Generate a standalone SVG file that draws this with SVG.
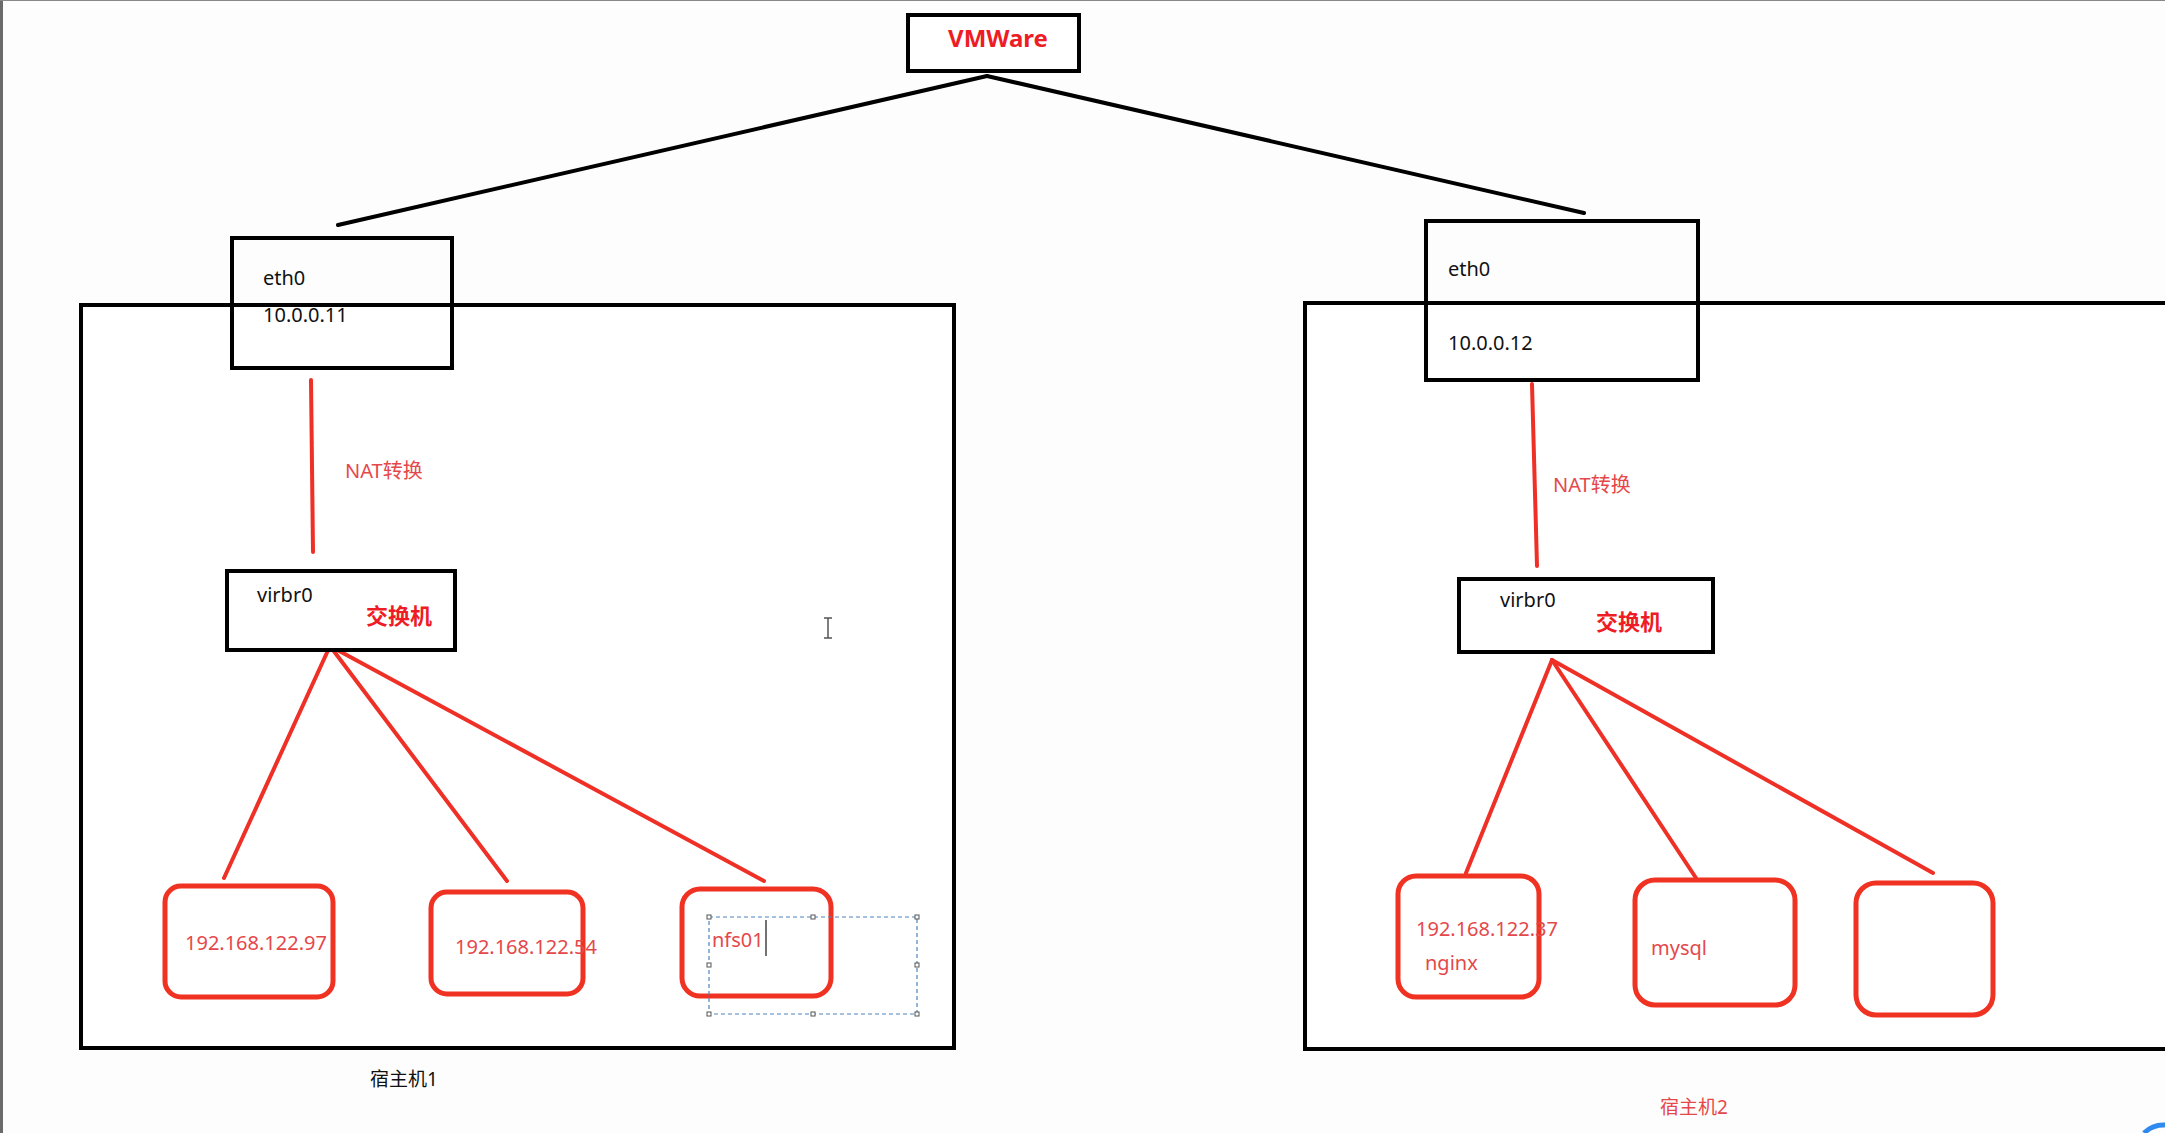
<svg xmlns="http://www.w3.org/2000/svg" width="2165" height="1133" viewBox="0 0 2165 1133">
<style>
.bk{fill:#fff;stroke:#000;stroke-width:4}
.vm{fill:#fff;stroke:#f03223;stroke-width:5}
.cb{stroke:#000;stroke-width:4;fill:none;stroke-linecap:round}
.cr{stroke:#ef3026;stroke-width:4;fill:none;stroke-linecap:round}
.t{font-family:"Noto Sans","Noto Sans CJK SC",sans-serif;font-size:20px;fill:#111}
.tr{font-family:"Noto Sans","Noto Sans CJK SC",sans-serif;font-size:20px;fill:#e5484a}
.tb{font-family:"Noto Sans","Noto Sans CJK SC",sans-serif;font-weight:bold;fill:#ee1c25}
.h{fill:#fff;stroke:#555;stroke-width:1}
</style>
<rect x="0" y="0" width="2165" height="1133" fill="#fdfdfd"/>
<rect x="0" y="0" width="3" height="1133" fill="#6a6a6a"/>
<line x1="0" y1="0.5" x2="2165" y2="0.5" stroke="#888" stroke-width="1"/>

<g id="host1">
<rect class="bk" x="81" y="305" width="873" height="743"/>
<text class="t" x="370" y="1086" style="font-size:19px">宿主机1</text>
</g>
<g id="host2">
<rect class="bk" x="1305" y="303" width="900" height="746"/>
<text class="tr" x="1660" y="1114" style="font-size:19px">宿主机2</text>
</g>

<g id="connectors">
<line class="cb" x1="987" y1="76" x2="338" y2="225"/>
<line class="cb" x1="987" y1="76" x2="1584" y2="213"/>
<line class="cr" x1="311" y1="380" x2="313" y2="552"/>
<line class="cr" x1="1532" y1="384" x2="1537" y2="566"/>
<line class="cr" x1="330" y1="646" x2="224" y2="878"/>
<line class="cr" x1="330" y1="646" x2="507" y2="881"/>
<line class="cr" x1="330" y1="646" x2="764" y2="881"/>
<line class="cr" x1="1552" y1="660" x2="1466" y2="873"/>
<line class="cr" x1="1552" y1="660" x2="1696" y2="878"/>
<line class="cr" x1="1552" y1="660" x2="1933" y2="873"/>
<text class="tr" x="345" y="478">NAT转换</text>
<text class="tr" x="1553" y="492">NAT转换</text>
</g>

<g id="vmware">
<rect class="bk" x="908" y="15" width="171" height="56"/>
<text class="tb" x="998" y="47" text-anchor="middle" style="font-size:24px">VMWare</text>
</g>

<g id="eth0-1">
<rect class="bk" x="232" y="238" width="220" height="130" style="fill:none"/>
<text class="t" x="263" y="285">eth0</text>
<text class="t" x="263" y="322">10.0.0.11</text>
</g>
<g id="eth0-2">
<rect class="bk" x="1426" y="221" width="272" height="159" style="fill:none"/>
<text class="t" x="1448" y="276">eth0</text>
<text class="t" x="1448" y="350">10.0.0.12</text>
</g>

<g id="virbr0-1">
<rect class="bk" x="227" y="571" width="228" height="79"/>
<text class="t" x="257" y="602">virbr0</text>
<text class="tb" x="366" y="624" style="font-size:22px">交换机</text>
</g>
<g id="virbr0-2">
<rect class="bk" x="1459" y="579" width="254" height="73"/>
<text class="t" x="1500" y="607">virbr0</text>
<text class="tb" x="1596" y="630" style="font-size:22px">交换机</text>
</g>

<g id="vm1">
<rect class="vm" x="165" y="886" width="168" height="111" rx="16"/>
<text class="tr" x="185" y="950">192.168.122.97</text>
</g>
<g id="vm2">
<rect class="vm" x="431" y="892" width="152" height="102" rx="16"/>
<text class="tr" x="455" y="954">192.168.122.54</text>
</g>
<g id="vm3">
<rect class="vm" x="682" y="889" width="149" height="107" rx="18"/>
<text class="tr" x="712" y="947">nfs01</text>
<line x1="766" y1="920" x2="766" y2="956" stroke="#444" stroke-width="1.5"/>
<rect x="709" y="917" width="208" height="97" fill="none" stroke="#4a86c0" stroke-width="1.2" stroke-dasharray="4,3"/>
<rect class="h" x="707" y="915" width="4" height="4"/>
<rect class="h" x="811" y="915" width="4" height="4"/>
<rect class="h" x="915" y="915" width="4" height="4"/>
<rect class="h" x="707" y="963" width="4" height="4"/>
<rect class="h" x="915" y="963" width="4" height="4"/>
<rect class="h" x="707" y="1012" width="4" height="4"/>
<rect class="h" x="811" y="1012" width="4" height="4"/>
<rect class="h" x="915" y="1012" width="4" height="4"/>
</g>

<g id="vm4">
<rect class="vm" x="1398" y="876" width="141" height="121" rx="18"/>
<text class="tr" x="1416" y="936">192.168.122.37</text>
<text class="tr" x="1425" y="970">nginx</text>
</g>
<g id="vm5">
<rect class="vm" x="1635" y="880" width="160" height="125" rx="20"/>
<text class="tr" x="1651" y="955">mysql</text>
</g>
<g id="vm6">
<rect class="vm" x="1856" y="883" width="137" height="132" rx="20"/>
</g>

<g id="cursor" stroke="#555" stroke-width="1.5" fill="none">
<line x1="828" y1="618" x2="828" y2="638"/>
<line x1="824" y1="618" x2="832" y2="618"/>
<line x1="824" y1="638" x2="832" y2="638"/>
</g>
<path d="M2144 1133 A28 28 0 0 1 2165 1125" fill="none" stroke="#2f8af0" stroke-width="5"/>
</svg>
